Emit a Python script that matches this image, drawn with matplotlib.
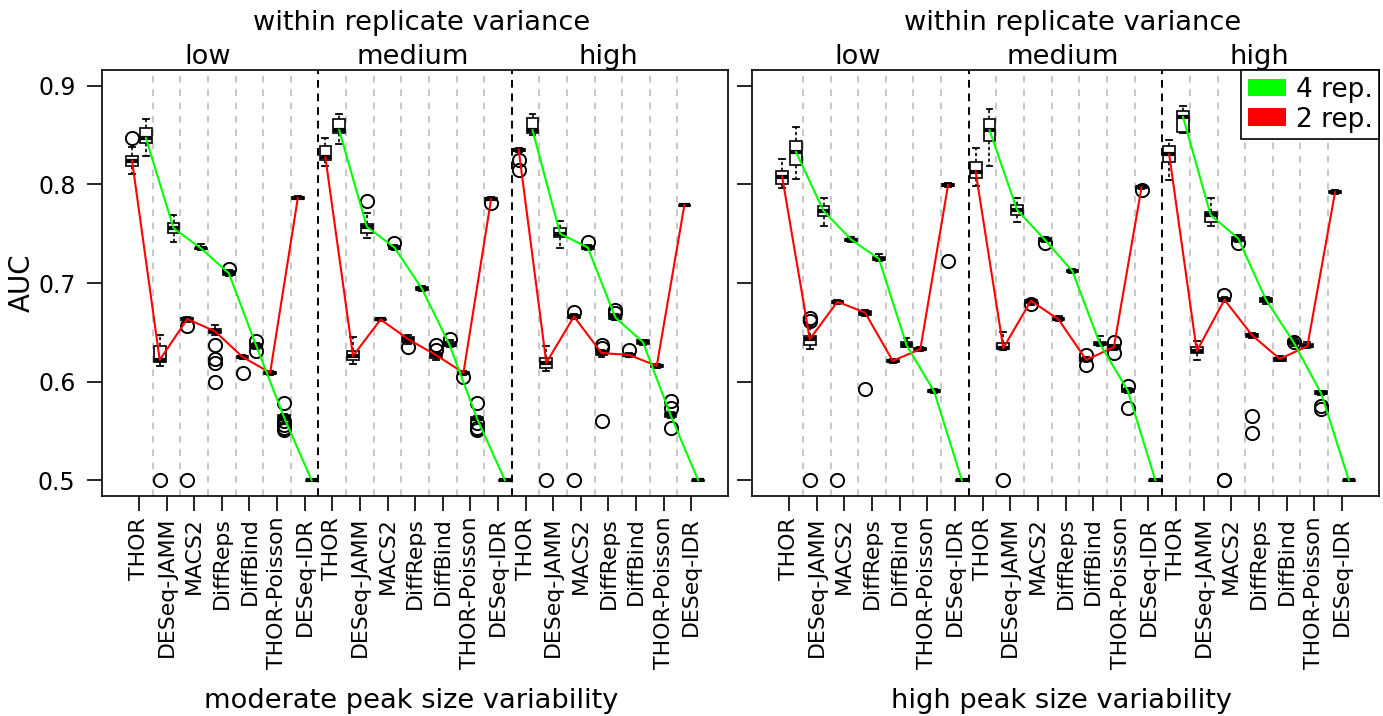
import matplotlib
matplotlib.use("Agg")
import matplotlib.pyplot as plt
from matplotlib.patches import Patch

methods = ["THOR", "DESeq-JAMM", "MACS2", "DiffReps", "DiffBind", "THOR-Poisson", "DESeq-IDR"]
levels = ["low", "medium", "high"]

# box stats per method: (whislo, q1, med, q3, whishi); order low(7), medium(7), high(7)
# moderate peak size variability, 2 replicates
mod_2rep = [
    (0.811, 0.819, 0.824, 0.829, 0.838), (0.616, 0.6195, 0.622, 0.636, 0.6475),
    (0.660, 0.662, 0.6635, 0.665, 0.666), (0.647, 0.649, 0.651, 0.653, 0.657),
    (0.623, 0.624, 0.625, 0.626, 0.627), (0.607, 0.6075, 0.609, 0.610, 0.611),
    (0.785, 0.7855, 0.786, 0.7875, 0.788),
    (0.819, 0.8245, 0.8275, 0.839, 0.847), (0.618, 0.622, 0.626, 0.631, 0.645),
    (0.661, 0.662, 0.663, 0.664, 0.665), (0.638, 0.640, 0.643, 0.645, 0.6475),
    (0.622, 0.624, 0.627, 0.629, 0.630), (0.607, 0.608, 0.609, 0.610, 0.611),
    (0.784, 0.7845, 0.785, 0.786, 0.787),
    (0.833, 0.834, 0.835, 0.836, 0.837), (0.6105, 0.614, 0.619, 0.624, 0.636),
    (0.664, 0.665, 0.666, 0.668, 0.669), (0.625, 0.627, 0.629, 0.631, 0.632),
    (0.625, 0.626, 0.627, 0.628, 0.629), (0.614, 0.615, 0.616, 0.617, 0.618),
    (0.778, 0.7785, 0.779, 0.7795, 0.780),
]
mod_2rep_out = [
    [0.847], [0.5], [0.656, 0.5], [0.637, 0.623, 0.619, 0.600], [0.6087], [], [],
    [], [], [], [0.635], [0.637, 0.632], [0.605], [0.781],
    [0.825, 0.815], [0.5], [0.671, 0.5], [0.637, 0.634, 0.560], [0.632], [], [],
]
# moderate peak size variability, 4 replicates
mod_4rep = [
    (0.829, 0.842, 0.847, 0.857, 0.866), (0.742, 0.751, 0.7556, 0.7607, 0.769),
    (0.733, 0.734, 0.735, 0.736, 0.7395), (0.707, 0.708, 0.710, 0.712, 0.713),
    (0.633, 0.634, 0.636, 0.638, 0.639), (0.561, 0.5625, 0.564, 0.566, 0.567),
    (0.499, 0.4995, 0.5, 0.5005, 0.501),
    (0.841, 0.852, 0.855, 0.866, 0.871), (0.7455, 0.751, 0.757, 0.760, 0.771),
    (0.733, 0.734, 0.736, 0.738, 0.739), (0.692, 0.6925, 0.694, 0.6955, 0.6965),
    (0.635, 0.636, 0.637, 0.640, 0.6425), (0.561, 0.5615, 0.562, 0.564, 0.5648),
    (0.499, 0.4995, 0.5, 0.5005, 0.501),
    (0.850, 0.8524, 0.855, 0.867, 0.871), (0.735, 0.7465, 0.750, 0.7556, 0.763),
    (0.7335, 0.734, 0.736, 0.738, 0.739), (0.662, 0.663, 0.665, 0.668, 0.669),
    (0.637, 0.638, 0.640, 0.642, 0.6425), (0.563, 0.564, 0.566, 0.568, 0.569),
    (0.499, 0.4995, 0.5, 0.5005, 0.501),
]
mod_4rep_out = [
    [], [], [], [0.7144], [0.641, 0.631], [0.578, 0.560, 0.556, 0.553, 0.5505], [],
    [], [0.7835], [0.741], [], [0.643], [0.578, 0.558, 0.553, 0.551], [],
    [], [], [0.742], [0.673, 0.670], [], [0.580, 0.5733, 0.553], [],
]
# high peak size variability, 2 replicates
high_2rep = [
    (0.796, 0.800, 0.808, 0.814, 0.8255), (0.633, 0.637, 0.643, 0.6458, 0.656),
    (0.679, 0.680, 0.681, 0.682, 0.683), (0.667, 0.668, 0.670, 0.672, 0.673),
    (0.619, 0.620, 0.621, 0.622, 0.623), (0.6306, 0.632, 0.633, 0.634, 0.635),
    (0.797, 0.798, 0.799, 0.800, 0.801),
    (0.798, 0.806, 0.813, 0.823, 0.837), (0.632, 0.633, 0.634, 0.639, 0.650),
    (0.678, 0.680, 0.682, 0.683, 0.684), (0.661, 0.662, 0.663, 0.665, 0.667),
    (0.6205, 0.621, 0.622, 0.624, 0.625), (0.6324, 0.633, 0.635, 0.637, 0.6374),
    (0.795, 0.796, 0.797, 0.798, 0.7984),
    (0.804, 0.823, 0.8305, 0.839, 0.845), (0.622, 0.629, 0.631, 0.6355, 0.641),
    (0.6813, 0.682, 0.683, 0.685, 0.6863), (0.644, 0.645, 0.647, 0.648, 0.649),
    (0.6205, 0.621, 0.623, 0.624, 0.6256), (0.634, 0.635, 0.636, 0.638, 0.6398),
    (0.790, 0.791, 0.792, 0.793, 0.7944),
]
high_2rep_out = [
    [], [0.665, 0.661, 0.5], [0.5], [0.5925], [], [], [0.7228],
    [], [0.5], [0.6785], [], [0.627, 0.617], [0.640, 0.629], [0.794],
    [], [], [0.688, 0.5, 0.5], [0.565, 0.548], [], [], [],
]
# high peak size variability, 4 replicates
high_4rep = [
    (0.805, 0.8197, 0.833, 0.8443, 0.858), (0.758, 0.768, 0.773, 0.778, 0.786),
    (0.742, 0.743, 0.744, 0.745, 0.7465), (0.7228, 0.7235, 0.7245, 0.726, 0.7296),
    (0.6347, 0.635, 0.637, 0.640, 0.644), (0.5885, 0.589, 0.590, 0.591, 0.5925),
    (0.499, 0.4995, 0.5, 0.5005, 0.501),
    (0.819, 0.844, 0.855, 0.866, 0.876), (0.762, 0.769, 0.774, 0.779, 0.786),
    (0.742, 0.743, 0.744, 0.746, 0.747), (0.710, 0.711, 0.712, 0.713, 0.7144),
    (0.6357, 0.637, 0.638, 0.640, 0.6458), (0.5885, 0.589, 0.591, 0.593, 0.5936),
    (0.499, 0.4995, 0.5, 0.5005, 0.501),
    (0.852, 0.8535, 0.8685, 0.874, 0.879), (0.758, 0.762, 0.769, 0.772, 0.786),
    (0.742, 0.743, 0.745, 0.747, 0.7488), (0.679, 0.681, 0.683, 0.685, 0.6863),
    (0.6357, 0.638, 0.640, 0.642, 0.6442), (0.5868, 0.587, 0.588, 0.590, 0.5908),
    (0.499, 0.4995, 0.5, 0.5005, 0.501),
]
high_4rep_out = [
    [], [], [], [], [], [], [],
    [], [], [0.7404], [], [], [0.5952, 0.5733], [],
    [], [], [0.741], [], [0.6405], [0.575, 0.572], [],
]

GREEN = "#00ff00"
RED = "#ff0000"


def make_stats(boxes, outs):
    stats = []
    for (lo, q1, med, q3, hi), fl in zip(boxes, outs):
        stats.append(dict(whislo=lo, q1=q1, med=med, q3=q3, whishi=hi, fliers=fl))
    return stats


def draw_panel(ax, rep2, rep2_out, rep4, rep4_out, xlabel):
    n = len(methods)
    pos2 = [g * 2 * n + 2 * m + 1 for g in range(3) for m in range(n)]
    pos4 = [p + 1 for p in pos2]

    # separators
    for g in range(3):
        for m in range(1, n):
            ax.axvline(g * 2 * n + 2 * m + 0.5, color="#bebebe", lw=1.2,
                       ls=(0, (4, 4)), zorder=0)
    for g in range(1, 3):
        ax.axvline(g * 2 * n + 0.5, color="black", lw=1.4, ls=(0, (4, 3)), zorder=0)

    kw = dict(widths=0.85, patch_artist=True, manage_ticks=False,
              boxprops=dict(facecolor="white", edgecolor="black", lw=1.2),
              medianprops=dict(color="black", lw=3),
              whiskerprops=dict(color="black", lw=1.2, ls=(0, (2, 1.5))),
              capprops=dict(color="black", lw=1.3),
              flierprops=dict(marker="o", mfc="none", mec="black", ms=9.5, mew=1.4))
    ax.bxp(make_stats(rep2, rep2_out), positions=pos2, zorder=2, **kw)
    ax.bxp(make_stats(rep4, rep4_out), positions=pos4, zorder=2, **kw)

    # lines through medians, one per variance level
    for g in range(3):
        sl = slice(g * n, (g + 1) * n)
        ax.plot(pos2[sl], [b[2] for b in rep2[sl]], color=RED, lw=1.5, zorder=4)
        ax.plot(pos4[sl], [b[2] for b in rep4[sl]], color=GREEN, lw=1.5, zorder=4)

    ax.set_xlim(-1.18, 44.18)
    ax.set_ylim(0.484, 0.916)
    ax.set_xticks([p + 0.5 for p in pos2])
    ax.set_xticklabels(methods * 3, rotation=90, fontsize=15.8)
    ax.set_yticks([0.5, 0.6, 0.7, 0.8, 0.9])
    ax.tick_params(axis="both", direction="out", length=11, width=1.2)
    ax.tick_params(axis="x", pad=4)
    ax.tick_params(axis="y", pad=8, labelsize=17)
    for sp in ax.spines.values():
        sp.set_linewidth(1.2)

    tr = ax.get_xaxis_transform()
    ax.text(22, 1.094, "within replicate variance", transform=tr, ha="center",
            va="baseline", fontsize=19.6)
    for x, lab in zip([6.5, 21.3, 35.5], levels):
        ax.text(x, 1.014, lab, transform=tr, ha="center", va="baseline", fontsize=19.6)
    ax.text(21.2, -0.497, xlabel, transform=tr, ha="center", va="baseline",
            fontsize=19.6)


fig = plt.figure(figsize=(13.83, 7.16), dpi=100)
ax1 = fig.add_axes([102 / 1383, 220 / 716, 626.3 / 1383, 426 / 716])
ax2 = fig.add_axes([752 / 1383, 220 / 716, 627 / 1383, 426 / 716])

draw_panel(ax1, mod_2rep, mod_2rep_out, mod_4rep, mod_4rep_out,
           "moderate peak size variability")
draw_panel(ax2, high_2rep, high_2rep_out, high_4rep, high_4rep_out,
           "high peak size variability")

ax1.set_yticklabels(["0.5", "0.6", "0.7", "0.8", "0.9"])
ax2.set_yticklabels([])
ax1.text(-0.128, 0.5, "AUC", transform=ax1.transAxes, rotation=90,
         ha="center", va="center", fontsize=20)

handles = [Patch(facecolor=GREEN, edgecolor="none", label="4 rep."),
           Patch(facecolor=RED, edgecolor="none", label="2 rep.")]
leg = ax2.legend(handles=handles, loc="upper right", bbox_to_anchor=(1, 1),
                 borderaxespad=0, fontsize=19, fancybox=False, framealpha=1,
                 edgecolor="black", handlelength=1.45, handleheight=0.65,
                 handletextpad=0.35, labelspacing=0.15, borderpad=0.25)
leg.get_frame().set_linewidth(1.2)

fig.savefig("out.png", dpi=100)
